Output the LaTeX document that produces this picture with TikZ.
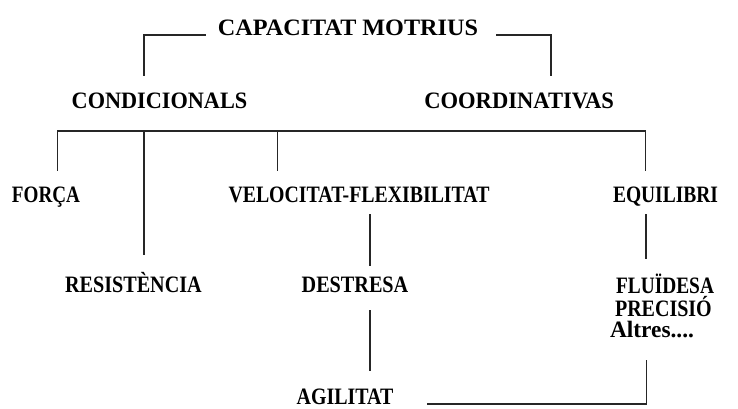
\documentclass[tikz,border=0pt]{standalone}
\usepackage{fontspec}
\setmainfont{Liberation Serif}
\usepackage{graphicx}
\newcommand{\fitw}[2]{\resizebox{#1}{\height}{#2}}
\tikzset{
  lbl/.style={anchor=base, inner sep=0pt, font=\fontsize{23.5}{23.5}\selectfont\bfseries, text=black},
  conn/.style={line width=1.3pt, draw=black!85}
}
\begin{document}
\begin{tikzpicture}[x=1pt,y=-1pt]
\useasboundingbox (0,0) rectangle (738,408);
\fill[white] (0,0) rectangle (738,408);
% nodes
\node[lbl] (cap)  at (348,35)    {\fitw{260pt}{CAPACITAT MOTRIUS}};
\node[lbl] (cond) at (159.5,108.3) {\fitw{175.6pt}{CONDICIONALS}};
\node[lbl] (coor) at (519.2,108.3) {\fitw{189.7pt}{COORDINATIVAS}};
\node[lbl] (forc) at (46,202)    {\fitw{68pt}{FORÇA}};
\node[lbl] (velo) at (359,202)   {\fitw{261pt}{VELOCITAT-FLEXIBILITAT}};
\node[lbl] (equi) at (665.5,202) {\fitw{105pt}{EQUILIBRI}};
\node[lbl] (resi) at (133.4,292.7) {\fitw{136.7pt}{RESISTÈNCIA}};
\node[lbl] (dest) at (355,292.7) {\fitw{106.6pt}{DESTRESA}};
\node[lbl] (flui) at (665,293)   {\fitw{98pt}{FLUÏDESA}};
\node[lbl] (prec) at (663.4,316.2) {\fitw{96.7pt}{PRECISIÓ}};
\node[lbl] (altr) at (652,337.5) {\fitw{84pt}{Altres....}};
\node[lbl] (agil) at (345,404.3) {\fitw{96.6pt}{AGILITAT}};
% connector end points
\coordinate (capL) at (205.6,35);
\coordinate (capLc) at (144,35);
\coordinate (condT) at (144,76);
\coordinate (capR) at (496,35);
\coordinate (capRc) at (551,35);
\coordinate (coorT) at (551,76);
\coordinate (barL) at (57.3,131);
\coordinate (barR) at (645.7,131);
\coordinate (forcT) at (57.3,170.7);
\coordinate (resiTop) at (144,131);
\coordinate (resiT) at (144,255);
\coordinate (veloTop) at (277.3,131);
\coordinate (veloT) at (277.3,170.7);
\coordinate (equiT) at (645.7,170.7);
\coordinate (veloB) at (370,214);
\coordinate (destT) at (370,266);
\coordinate (destB) at (370,310);
\coordinate (agilT) at (370,371);
\coordinate (equiB) at (646,214);
\coordinate (fluiT) at (646,259);
\coordinate (altrB) at (646.5,360);
\coordinate (agilC) at (646.5,404);
\coordinate (agilR) at (426.7,404);
% connectors
\draw[conn] (capL) -- (capLc) -- (condT);
\draw[conn] (capR) -- (capRc) -- (coorT);
\draw[conn] (forcT) -- (barL) -- (barR) -- (equiT);
\draw[conn] (resiTop) -- (resiT);
\draw[conn] (veloTop) -- (veloT);
\draw[conn] (veloB) -- (destT);
\draw[conn] (destB) -- (agilT);
\draw[conn] (equiB) -- (fluiT);
\draw[conn] (altrB) -- (agilC) -- (agilR);
\end{tikzpicture}
\end{document}
